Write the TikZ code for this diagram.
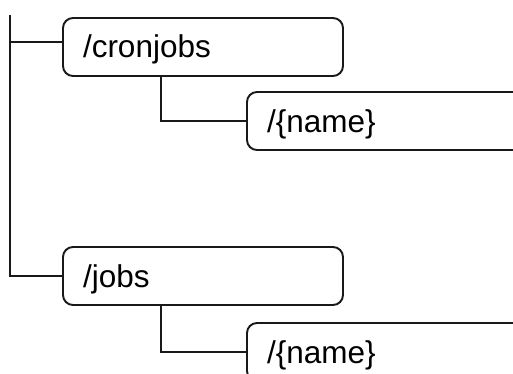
\documentclass[tikz,border=0pt]{standalone}
\usepackage{fontspec}
\setmainfont{Liberation Sans}
\usetikzlibrary{calc}
\begin{document}
\begin{tikzpicture}[x=1pt,y=-1pt,
  res/.style={draw=black!90, line width=1.9pt, rounded corners=10pt, fill=white,
    minimum height=58pt, inner xsep=20pt, inner ysep=0pt,
    text height=40pt, text depth=18pt, align=left,
    font=\fontsize{31.5}{38}\selectfont},
  wire/.style={draw=black!90, line width=1.9pt}]
\useasboundingbox (0,0) rectangle (513,374);
\clip (0,0) rectangle (513,374);
\fill[white] (0,0) rectangle (513,374);
\node[res, text width=240pt] (cron) at (203,47) {/cronjobs};
\node[res, text width=300pt] (n1) at (417,121) {/\{name\}};
\node[res, text width=240pt] (jobs) at (203,276) {/jobs};
\node[res, text width=300pt] (n2) at (417,352) {/\{name\}};
\coordinate (top) at (10,15);
\draw[wire] (top) |- (jobs.west);
\draw[wire] ([yshift=5pt]cron.west) -- ([yshift=5pt]cron.west -| top);
\draw[wire] ([xshift=99pt]cron.south west) |- (n1.west);
\draw[wire] ([xshift=99pt]jobs.south west) |- (n2.west);
\end{tikzpicture}
\end{document}
